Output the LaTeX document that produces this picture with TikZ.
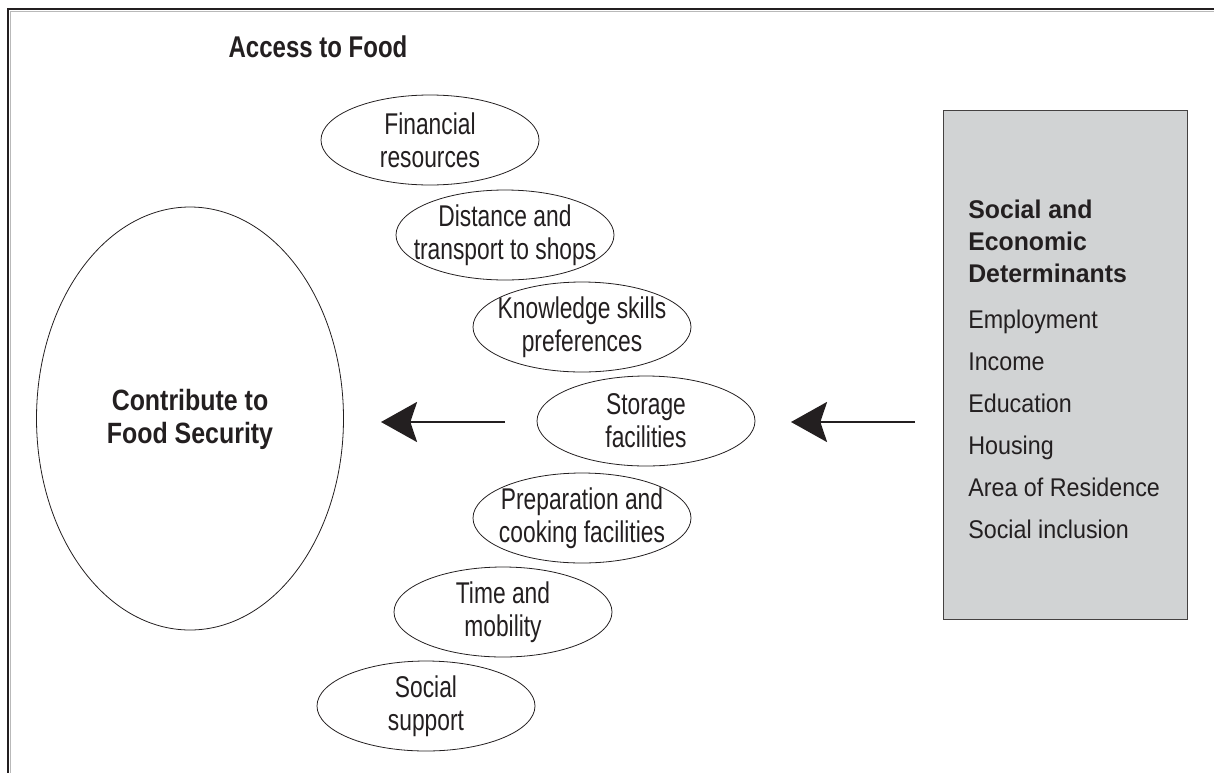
\documentclass[tikz,border=0pt]{standalone}
\usepackage{fontspec}
\setmainfont{Liberation Sans}
\newfontfamily\ellf[FakeStretch=0.76]{Liberation Sans}
\newfontfamily\ttlf[FakeStretch=0.80]{Liberation Sans}
\newfontfamily\fsf[FakeStretch=0.85]{Liberation Sans}
\newfontfamily\boxf[FakeStretch=0.91]{Liberation Sans}
\newfontfamily\boxbf[FakeStretch=0.97]{Liberation Sans}
\usetikzlibrary{shapes.geometric,arrows.meta}
\definecolor{ink}{HTML}{231F20}
\definecolor{boxgray}{HTML}{D1D3D4}
\begin{document}
\begin{tikzpicture}[x=0.75pt,y=-0.75pt,
  smallell/.style={draw=ink, line width=0.6pt, ellipse, minimum width=163.5pt, minimum height=67.5pt, inner sep=0pt},
  elltext/.style={text=ink, align=center, inner sep=0pt, font=\ellf\fontsize{22.5pt}{24.75pt}\selectfont},
  titletext/.style={text=ink, align=center, inner sep=0pt, font=\ttlf\bfseries\fontsize{22.5pt}{25.5pt}\selectfont},
  fstitle/.style={text=ink, align=center, inner sep=0pt, font=\fsf\bfseries\fontsize{22pt}{24.75pt}\selectfont},
  boxhead/.style={text=ink, anchor=base west, inner sep=0pt, font=\boxbf\bfseries\fontsize{19.2pt}{24pt}\selectfont},
  boxitem/.style={text=ink, anchor=base west, inner sep=0pt, font=\boxf\fontsize{19.2pt}{24pt}\selectfont},
  bigarrow/.style={draw=ink, line width=2pt, -{Stealth[length=27pt,width=30pt,inset=5pt]}}
]
\useasboundingbox (0,0) rectangle (1214,772);
% frame
\draw[gray!55, line width=0.9pt] (10.8,800) -- (10.8,11.8) -- (1240,11.8);
\draw[ink, line width=1.5pt] (8,800) -- (8,9) -- (1240,9);

% title
\node[titletext, anchor=base] (access) at (318,57) {Access to Food};

% big ellipse
\node[draw=ink, line width=0.6pt, ellipse, minimum width=230.25pt, minimum height=317.25pt, inner sep=0pt] (fs) at (190,418.5) {};
\node[fstitle] (fstext) at (190,419) {Contribute to\\Food Security};

% small ellipses
\node[smallell] (e1) at (430,140) {};
\node[smallell] (e2) at (505,235) {};
\node[smallell] (e3) at (582,327) {};
\node[smallell] (e4) at (646,421) {};
\node[smallell] (e5) at (582,518) {};
\node[smallell] (e6) at (503,612) {};
\node[smallell] (e7) at (426,706) {};
\node[elltext] (t1) at (e1) {Financial\\resources};
\node[elltext] (t2) at (e2) {Distance and\\transport to shops};
\node[elltext] (t3) at (e3) {Knowledge skills\\preferences};
\node[elltext] (t4) at (e4) {Storage\\facilities};
\node[elltext] (t5) at (e5) {Preparation and\\cooking facilities};
\node[elltext] (t6) at (e6) {Time and\\mobility};
\node[elltext] (t7) at (e7) {Social\\support};

% gray box
\node[draw=ink!85, fill=boxgray, line width=1pt, anchor=north west, minimum width=183pt, minimum height=381.75pt, inner sep=0pt] (sed) at (943,110) {};
\node[boxhead] (h1) at (968,218) {Social and};
\node[boxhead] (h2) at (968,250) {Economic};
\node[boxhead] (h3) at (968,282) {Determinants};
\node[boxitem] (i1) at (968,328) {Employment};
\node[boxitem] (i2) at (968,370) {Income};
\node[boxitem] (i3) at (968,412) {Education};
\node[boxitem] (i4) at (968,454) {Housing};
\node[boxitem] (i5) at (968,496) {Area of Residence};
\node[boxitem] (i6) at (968,538) {Social inclusion};

% arrows
\coordinate (a1s) at (505,422);
\coordinate (a1e) at (381,422);
\coordinate (a2s) at (915,422);
\coordinate (a2e) at (791,422);
\draw[bigarrow] (a1s) -- (a1e);
\draw[bigarrow] (a2s) -- (a2e);
\end{tikzpicture}
\end{document}
